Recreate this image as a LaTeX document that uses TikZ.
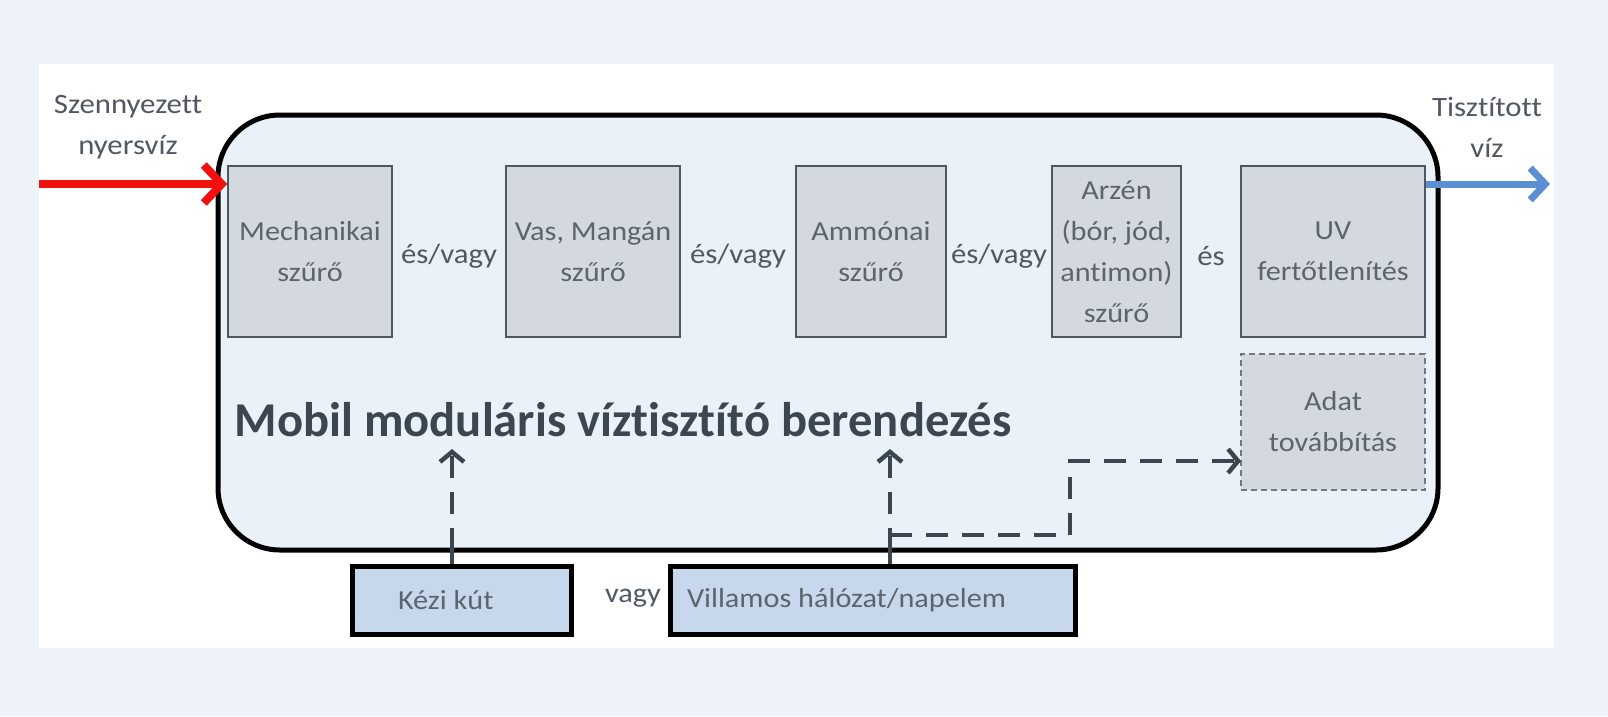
\documentclass[tikz,border=0pt]{standalone}
\usepackage{fontspec}
\setmainfont{Carlito}[Ligatures=NoCommon]
\newfontfamily\szeles{Carlito}[FakeStretch=1.1, Ligatures=NoCommon]
\usetikzlibrary{arrows.meta}

\definecolor{hatter}{HTML}{EEF2F9}
\definecolor{keret}{HTML}{EBF1F9}
\definecolor{dobozszurke}{HTML}{D4D9E1}
\definecolor{dobozvonal}{HTML}{4F5760}
\definecolor{szoveg}{HTML}{5C646E}
\definecolor{sotet}{HTML}{3C4650}
\definecolor{alsokek}{HTML}{C8D8EC}
\definecolor{kimenet}{HTML}{5B8FD4}
\definecolor{bemenet}{HTML}{F01010}

\tikzset{
  szuro/.style={draw=dobozvonal, fill=dobozszurke, line width=1.5pt, text=szoveg,
    align=center, minimum height=171pt, inner sep=0pt,
    font=\szeles\fontsize{27.5}{41}\selectfont},
  kotoszo/.style={text=sotet!90, font=\szeles\fontsize{28}{33}\selectfont},
  also/.style={draw=black, fill=alsokek, line width=5pt, text=szoveg,
    minimum height=68pt, font=\szeles\fontsize{27.5}{33}\selectfont},
  ellatas/.style={draw=sotet, line width=4.5pt, dash pattern=on 22pt off 14pt},
  hegy/.style={-{Straight Barb[length=10pt,width=24pt]}},
}

\begin{document}
\begin{tikzpicture}[x=1pt,y=-1pt]
\fill[hatter] (0,0) rectangle (1608,716);
\useasboundingbox (0,0) rectangle (1608,716);
\fill[white] (39,64) rectangle (1554,648);

% berendezes
\draw[line width=5pt, fill=keret, rounded corners=62pt] (218,115) rectangle (1438,550);

\node[szuro, minimum width=164pt] (mech) at (310,251.5) {Mechanikai\\szűrő};
\node[szuro, minimum width=174pt] (vas) at (593,251.5) {Vas, Mangán\\szűrő};
\node[szuro, minimum width=150pt] (ammo) at (871,251.5) {Ammónai\\szűrő};
\node[szuro, minimum width=129pt] (arzen) at (1116.5,251.5) {Arzén\\(bór, jód,\\antimon)\\szűrő};
\node[szuro, minimum width=184pt] (uv) at (1333,251.5) {UV\\fertőtlenítés};
\node[szuro, draw=dobozvonal!80, line width=1.2pt, dash pattern=on 6pt off 4pt,
  minimum width=184pt, minimum height=136pt] (adat) at (1333,422) {Adat\\továbbítás};

\node[kotoszo] (ev1) at (449,256) {és/vagy};
\node[kotoszo] (ev2) at (738,256) {és/vagy};
\node[kotoszo] (ev3) at (999,256) {és/vagy};
\node[kotoszo] (es) at (1211,256) {és};

\node[anchor=west, text=sotet, font=\fontsize{48.6}{58}\bfseries\selectfont] (cim) at (231,420)
  {Mobil moduláris víztisztító berendezés};

% be- es kimenet
\node[text=sotet!90, align=center, font=\szeles\fontsize{28}{41}\selectfont] (nyers) at (128,127)
  {Szennyezett\\nyersvíz};
\node[text=sotet!90, align=center, font=\szeles\fontsize{28}{41}\selectfont] (tiszta) at (1487,127)
  {Tisztított\\víz};
\coordinate (be) at (39,184);
\coordinate (ki) at (1550,184);
\draw[bemenet, line width=8pt, -{Straight Barb[length=18pt,width=38pt]}] (be) -- (mech.west |- be);
\draw[kimenet, line width=7pt, -{Straight Barb[length=15pt,width=32pt]}] (uv.east |- ki) -- (ki);

% energia
\node[also, minimum width=219pt] (kezi) at (461.5,600) {\makebox[127pt][l]{Kézi kút}};
\node[also, minimum width=405pt] (villamos) at (872.5,600) {\makebox[371pt][l]{Villamos hálózat/napelem}};
\node[text=sotet!90, font=\szeles\fontsize{27.5}{33}\selectfont] (vagy) at (633,598) {vagy};

\coordinate (kezibe) at (452,550);
\coordinate (kezicel) at (452,449);
\coordinate (villbe) at (890,550);
\coordinate (villcel) at (890,449);
\coordinate (elag) at (890,535);
\coordinate (adatbe) at (1241,461);
\draw[sotet, line width=4.5pt] (kezi.north -| kezibe) -- (kezibe);
\draw[sotet, line width=4.5pt] (villamos.north -| villbe) -- (villbe);
\draw[ellatas, hegy] (kezibe) -- (kezicel);
\draw[ellatas, hegy] (villbe) -- (villcel);
\draw[ellatas, hegy] (elag) -- (1070,535) |- (adatbe);
\end{tikzpicture}
\end{document}
